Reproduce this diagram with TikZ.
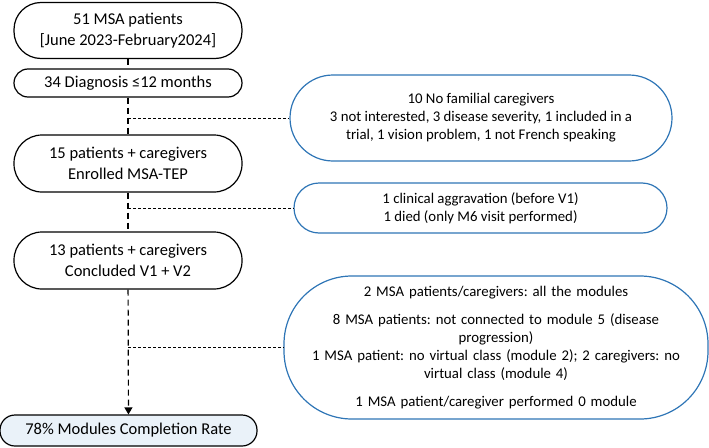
\documentclass[tikz,border=0pt]{standalone}
\usepackage{fontspec}
\setmainfont{Carlito}
\usepackage{tikz}
\usetikzlibrary{arrows.meta}
\definecolor{flowBlue}{HTML}{2E75B6}
\definecolor{flowFill}{HTML}{EAF2F9}
\frenchspacing

\begin{document}
\begin{tikzpicture}[x=1pt,y=-1pt,
  stage/.style={draw,line width=1.2pt,minimum width=228pt,inner sep=2pt,align=center,font=\fontsize{16.5}{20.5}\selectfont},
  excl/.style={draw=flowBlue,line width=1.2pt,inner sep=2pt,align=center,font=\fontsize{14.8}{18}\selectfont},
  vflow/.style={line width=1.2pt,dash pattern=on 6pt off 4pt},
  hflow/.style={line width=0.6pt,dash pattern=on 3pt off 2pt}]
\useasboundingbox (0,0) rectangle (709,447);
\node[stage,minimum height=56pt,rounded corners=27pt] (msaAll) at (128,30.5){51 MSA patients\\{}[June 2023-February2024]};
\node[stage,minimum height=28pt,rounded corners=14pt] (diag) at (128,83){34 Diagnosis ≤12 months};
\node[stage,minimum height=57pt,rounded corners=28pt] (enrolled) at (128,163.5){15 patients + caregivers\\Enrolled MSA-TEP};
\node[stage,minimum height=57pt,rounded corners=28pt] (concluded) at (128,260.5){13 patients + caregivers\\Concluded V1 + V2};
\node[stage,minimum height=31pt,minimum width=257pt,rounded corners=15pt,fill=flowFill] (rate) at (128.5,430.5){78\% Modules Completion Rate};
\node[excl,minimum width=382pt,minimum height=86pt,rounded corners=43pt] (noCare) at (481,118){10 No familial caregivers\\3 not interested, 3 disease severity, 1 included in a\\trial, 1 vision problem, 1 not French speaking};
\node[excl,minimum width=373pt,minimum height=50pt,rounded corners=25pt] (dropOut) at (480.5,208){1 clinical aggravation (before V1)\\1 died (only M6 visit performed)};
\node[excl,minimum width=424pt,minimum height=143pt,text width=400pt,rounded corners=68pt] (modules) at (496,347.5){2 MSA patients/caregivers: all the modules\\[10pt]8 MSA patients: not connected to module 5 (disease\\progression)\\1 MSA patient: no virtual class (module 2); 2 caregivers: no\\virtual class (module 4)\\[10pt]1 MSA patient/caregiver performed 0 module};
\coordinate (brA) at (diag.south |- noCare.west);
\coordinate (brB) at (enrolled.south |- dropOut.west);
\coordinate (brC) at (concluded.south |- modules.west);
\draw[vflow] (msaAll) -- (diag);
\draw[vflow] (diag) -- (enrolled);
\draw[vflow] (enrolled) -- (concluded);
\draw[vflow,-{Triangle[length=7pt,width=8pt]}] (concluded) -- (rate);
\draw[hflow] (brA) -- (noCare.west);
\draw[hflow] (brB) -- (dropOut.west);
\draw[hflow] (brC) -- (modules.west);
\end{tikzpicture}
\end{document}
